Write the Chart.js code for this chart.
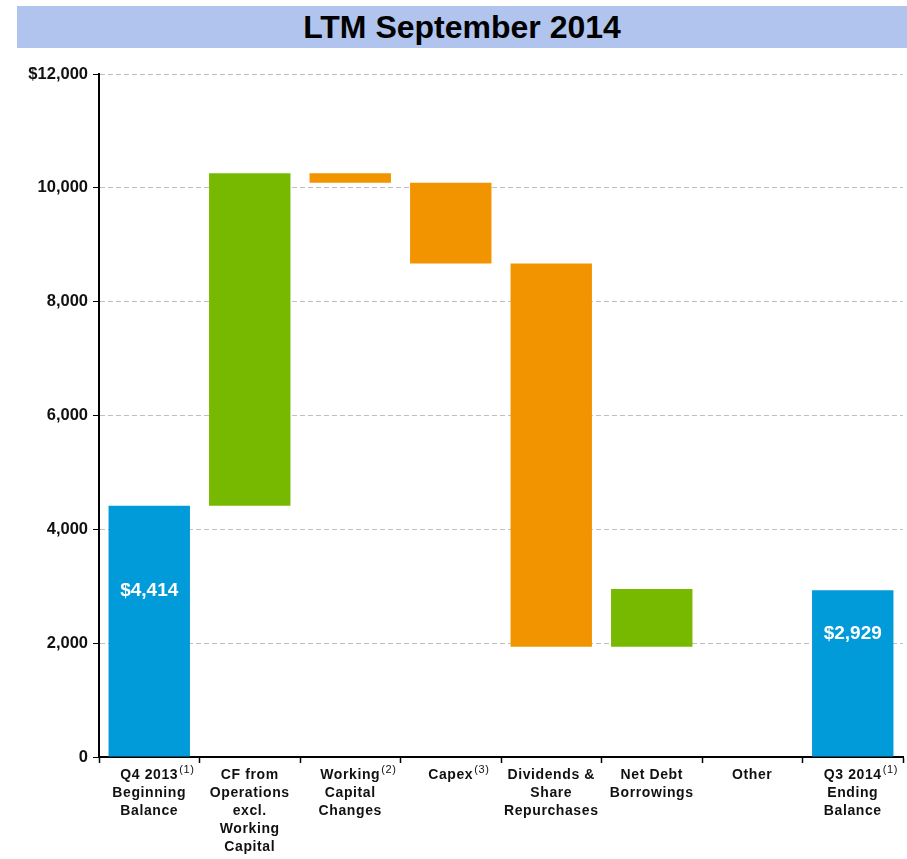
<!DOCTYPE html>
<html>
<head>
<meta charset="utf-8">
<script src="https://cdn.jsdelivr.net/npm/chart.js@4.4.1/dist/chart.umd.min.js"></script>
<style>
  html, body { margin: 0; padding: 0; background: #fff; }
  #wrap { position: relative; width: 907px; height: 859px; }
  #title {
    position: absolute; left: 17px; top: 6px; width: 890px; height: 42px;
    background: #b0c4ee; color: #000;
    font: bold 32px "Liberation Sans", Arial, sans-serif;
    text-align: center; line-height: 42px;
  }
  canvas { position: absolute; left: 0; top: 0; }
</style>
</head>
<body>
<div id="wrap">
  <div id="title">LTM September 2014</div>
  <canvas id="chart" width="907" height="859"></canvas>
</div>
<script>
// x categories (one array of lines per bar) and their footnote marks
const categories = [
  ['Q4 2013', 'Beginning', 'Balance'],
  ['CF from', 'Operations', 'excl.', 'Working', 'Capital'],
  ['Working', 'Capital', 'Changes'],
  ['Capex'],
  ['Dividends &', 'Share', 'Repurchases'],
  ['Net Debt', 'Borrowings'],
  ['Other'],
  ['Q3 2014', 'Ending', 'Balance'],
];
const footnotes = ['(1)', null, '(2)', '(3)', null, null, null, '(1)'];

// waterfall bar bottoms / tops ($ millions)
const barStart = [0, 4414, 10255, 10090, 8670, 1935, null, 0];
const barEnd = [4414, 10255, 10090, 8670, 1935, 2950, null, 2929];
const barKind = ['total', 'up', 'down', 'down', 'down', 'up', 'none', 'total'];

const yTicks = [0, 2000, 4000, 6000, 8000, 10000, 12000];

const COLORS = { total: '#009bd8', up: '#77b900', down: '#f29400', none: 'rgba(0,0,0,0)' };
const FONT = '"Liberation Sans", Arial, sans-serif';

const rangeData = barStart.map((s, i) => (s === null ? null : [s, barEnd[i]]));

// white value labels inside the two balance bars
const totalLabels = {
  id: 'totalLabels',
  afterDatasetsDraw(chart) {
    const meta = chart.getDatasetMeta(0);
    const ctx = chart.ctx;
    ctx.save();
    ctx.fillStyle = '#fff';
    ctx.font = 'bold 19px ' + FONT;
    ctx.textAlign = 'center';
    ctx.textBaseline = 'middle';
    meta.data.forEach((bar, i) => {
      if (barKind[i] !== 'total') return;
      const mid = (bar.y + bar.base) / 2;
      ctx.fillText('$' + barEnd[i].toLocaleString('en-US'), bar.x, mid - 40);
    });
    ctx.restore();
  },
};

// category labels under the axis, with raised footnote marks
const categoryLabels = {
  id: 'categoryLabels',
  afterDraw(chart) {
    const ctx = chart.ctx;
    const xs = chart.scales.x;
    const y0 = xs.top + 18;
    ctx.save();
    ctx.fillStyle = '#111';
    ctx.textBaseline = 'middle';
    if ('letterSpacing' in ctx) ctx.letterSpacing = '0.6px';
    categories.forEach((lines, i) => {
      const x = xs.getPixelForValue(i);
      lines.forEach((line, j) => {
        const y = y0 + j * 18;
        ctx.font = 'bold 14px ' + FONT;
        ctx.textAlign = 'center';
        ctx.fillText(line, x, y);
        if (j === 0 && footnotes[i]) {
          const w = ctx.measureText(line).width;
          ctx.font = '11px ' + FONT;
          ctx.textAlign = 'left';
          ctx.fillText(footnotes[i], x + w / 2 + 1, y - 5);
        }
      });
    });
    ctx.restore();
  },
};

new Chart(document.getElementById('chart'), {
  type: 'bar',
  data: {
    labels: categories.map(c => c.join(' ')),
    datasets: [{
      data: rangeData,
      backgroundColor: barKind.map(k => COLORS[k]),
      borderWidth: 0,
      barPercentage: 0.81,
      categoryPercentage: 1,
    }],
  },
  options: {
    responsive: false,
    animation: false,
    layout: { padding: { top: 74, right: 4, left: 0, bottom: 0 } },
    plugins: {
      legend: { display: false },
      tooltip: { enabled: false },
    },
    scales: {
      x: {
        afterFit: s => { s.height = 102; },
        border: { color: '#000', width: 2 },
        grid: { offset: true, drawOnChartArea: false, color: '#000', tickLength: 6, tickWidth: 1.5 },
        ticks: { display: false },
      },
      y: {
        min: 0, max: 12000,
        afterFit: s => { s.width = 99; },
        afterBuildTicks: s => { s.ticks = yTicks.map(v => ({ value: v })); },
        border: { color: '#000', width: 2, dash: [5, 3] },
        grid: { color: '#c0c0c0', lineWidth: 1, tickColor: '#000', tickLength: 6, tickBorderDash: [] },
        ticks: {
          color: '#111',
          font: { family: FONT, size: 16.5, weight: 'bold' },
          padding: 5,
          callback: v => (v === 12000 ? '$' : '') + v.toLocaleString('en-US'),
        },
      },
    },
  },
  plugins: [totalLabels, categoryLabels],
});
</script>
</body>
</html>
